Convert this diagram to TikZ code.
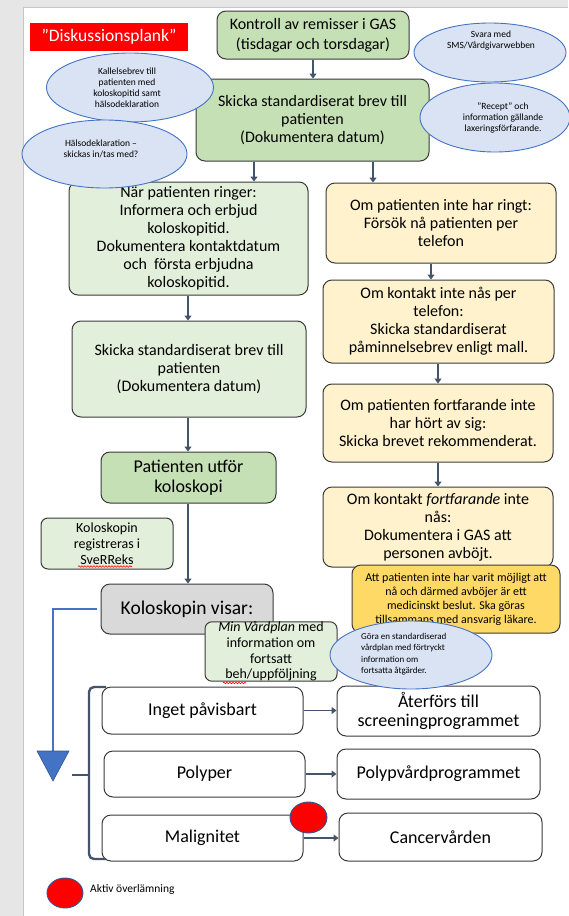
\documentclass[tikz,border=0pt]{standalone}
\usepackage{fontspec}
\setmainfont{Carlito}
\usetikzlibrary{arrows.meta,shapes.geometric,decorations.pathmorphing}
\definecolor{gdark}{HTML}{C5E0B4}
\definecolor{glight}{HTML}{E2EFDA}
\definecolor{orl}{HTML}{FFF2CC}
\definecolor{goldf}{HTML}{FFD966}
\definecolor{gryf}{HTML}{D9D9D9}
\definecolor{ellf}{HTML}{DAE3F3}
\definecolor{elld}{HTML}{4472C4}
\definecolor{arrc}{HTML}{44546A}
\definecolor{bord}{HTML}{3A3A3A}
\definecolor{pagebg}{HTML}{E6E6E6}
\definecolor{circb}{HTML}{2F5597}
\begin{document}
\begin{tikzpicture}[x=1pt,y=-1pt,
  box/.style={draw=bord, line width=1pt, rounded corners=9pt, align=center, inner sep=0pt, font=\fontsize{16}{18}\selectfont},
  ell/.style={ellipse, draw=elld, line width=0.9pt, fill=ellf, inner sep=0pt},
  etext/.style={align=center, inner sep=0pt, font=\fontsize{9.5}{11}\selectfont},
  conn/.style={draw=arrc, line width=1.8pt, -{Triangle[width=7pt,length=5pt]}},
  blueline/.style={draw=elld, line width=2.6pt},
  bracketline/.style={draw=arrc, line width=2.4pt, rounded corners=5pt},
  redc/.style={ellipse, fill=red, draw=circb, line width=0.9pt, inner sep=0pt},
  wavy/.style={draw=red, line width=0.6pt, decorate, decoration={snake, amplitude=0.8pt, segment length=3pt}}
]
\useasboundingbox (0,0) rectangle (568,916);
\fill[pagebg] (0,0) rectangle (568,916);
\fill[white] (23,7) rectangle (568,916);
\draw[gray!45, line width=0.6pt] (23,916) -- (23,7) -- (568,7);

% title
\node[fill=red, text=white, minimum width=158pt, minimum height=28pt, inner sep=0pt, font=\fontsize{17.5}{20}\selectfont] (title) at (109,37) {”Diskussionsplank”};

% top boxes
\node[box, fill=gdark, minimum width=192pt, minimum height=48pt, font=\fontsize{16}{20}\selectfont] (kontroll) at (313,35) {Kontroll av remisser i GAS\\(tisdagar och torsdagar)};
\node[box, fill=gdark, minimum width=233pt, minimum height=82pt] (skicka1) at (312.5,120) {Skicka standardiserat brev till\\patienten\\(Dokumentera datum)};

% left column
\node[box, fill=glight, minimum width=239pt, minimum height=113pt] (nar) at (188.5,238.5) {När patienten ringer:\\Informera och erbjud\\koloskopitid.\\Dokumentera kontaktdatum\\och\ \ första erbjudna\\koloskopitid.};
\node[box, fill=glight, minimum width=234pt, minimum height=96pt] (skicka2) at (189,369) {Skicka standardiserat brev till\\patienten\\(Dokumentera datum)};
\node[box, fill=gdark, minimum width=175pt, minimum height=51pt, font=\fontsize{18}{20}\selectfont] (utfor) at (188.5,477.5) {Patienten utför\\koloskopi};
\node[box, fill=glight, minimum width=132pt, minimum height=51pt, rounded corners=7pt, font=\fontsize{14}{16}\selectfont] (reg) at (107,543.5) {Koloskopin\\registreras i\\SveRReks};
\node[box, fill=gryf, minimum width=172pt, minimum height=50pt, font=\fontsize{19.5}{22}\selectfont] (visar) at (187,609) {Koloskopin visar:};
\node[box, fill=glight, minimum width=132pt, minimum height=59pt, rounded corners=7pt, font=\fontsize{14}{15.7}\selectfont] (minvp) at (271,651.5) {\textit{Min Vårdplan} med\\information om\\fortsatt\\beh/uppföljning};

% right column
\node[box, fill=orl, minimum width=230pt, minimum height=80pt] (omring) at (441,223) {Om patienten inte har ringt:\\Försök nå patienten per\\telefon};
\node[box, fill=orl, minimum width=231pt, minimum height=83pt] (omkontakt) at (438.5,321.5) {Om kontakt inte nås per\\telefon:\\Skicka standardiserat\\påminnelsebrev enligt mall.};
\node[box, fill=orl, minimum width=230pt, minimum height=78pt] (omfort) at (438,423) {Om patienten fortfarande inte\\har hört av sig:\\Skicka brevet rekommenderat.};
\node[box, fill=orl, minimum width=230pt, minimum height=80pt] (omkontakt2) at (438,527) {Om kontakt \textit{fortfarande} inte\\nås:\\Dokumentera i GAS att\\personen avböjt.};
\node[box, fill=goldf, minimum width=208pt, minimum height=68pt, font=\fontsize{12}{14}\selectfont] (att) at (456,599) {Att patienten inte har varit möjligt att\\nå och därmed avböjer är ett\\medicinskt beslut. Ska göras\\tillsammans med ansvarig läkare.};

% result boxes
\node[box, fill=white, minimum width=201pt, minimum height=47pt, font=\fontsize{18}{20}\selectfont] (inget) at (202.5,710.5) {Inget påvisbart};
\node[box, fill=white, minimum width=203pt, minimum height=50pt, font=\fontsize{18}{19.5}\selectfont] (aterfors) at (438.5,711) {Återförs till\\screeningprogrammet};
\node[box, fill=white, minimum width=201pt, minimum height=46pt, font=\fontsize{18}{20}\selectfont] (polyper) at (204.5,774) {Polyper};
\node[box, fill=white, minimum width=203pt, minimum height=50pt, font=\fontsize{18}{20}\selectfont] (polypvard) at (438.5,774) {Polypvårdprogrammet};
\node[box, fill=white, minimum width=201pt, minimum height=46pt, font=\fontsize{18}{20}\selectfont] (malig) at (202.5,838) {Malignitet};
\node[box, fill=white, minimum width=203pt, minimum height=48pt, font=\fontsize{18}{20}\selectfont] (cancer) at (440.5,837) {Cancervården};

% ellipses (on top of boxes)
\node[ell, minimum width=152pt, minimum height=59pt] (svara) at (490,52.5) {};
\node[etext] (svaraT) at (491,41) {Svara med\\SMS/Vårdgivarwebben};
\node[ell, minimum width=167pt, minimum height=69pt] (kallelse) at (130,87.5) {};
\node[etext] (kallelseT) at (127,88) {Kallelsebrev till\\patienten med\\koloskopitid samt\\hälsodeklaration};
\node[ell, minimum width=150pt, minimum height=69pt] (recept) at (495,117.5) {};
\node[etext] (receptT) at (503,118) {"Recept" och\\information gällande\\laxeringsförfarande.};
\node[ell, minimum width=165pt, minimum height=68pt] (hals) at (104.5,154) {};
\node[etext, font=\fontsize{9.5}{10.5}\selectfont] (halsT) at (101,149) {Hälsodeklaration –\\skickas in/tas med?};
\node[ell, minimum width=162pt, minimum height=68pt] (gora) at (411,655) {};
\node[etext, align=left, anchor=west, font=\fontsize{9}{11.3}\selectfont] (goraT) at (361,654) {Göra en standardiserad\\vårdplan med förtryckt\\information om\\fortsatta åtgärder.};

% spell-check underlines
\draw[wavy] (78,566.5) -- (132,566.5);
\draw[wavy] (223,683) -- (246,683);

% connectors
\coordinate (xa) at (254,0);
\coordinate (xb) at (373,0);
\coordinate (xc) at (431,0);
\coordinate (xl) at (188,0);
\coordinate (xr) at (438,0);
\draw[conn] (kontroll.south) -- (skicka1.north -| kontroll.south);
\draw[conn] (skicka1.south -| xa) -- (nar.north -| xa);
\draw[conn] (skicka1.south -| xb) -- (omring.north -| xb);
\draw[conn] (omring.south -| xc) -- (omkontakt.north -| xc);
\draw[conn] (omkontakt.south -| xr) -- (omfort.north -| xr);
\draw[conn] (omfort.south -| xr) -- (omkontakt2.north -| xr);
\draw[conn] (nar.south -| xl) -- (skicka2.north -| xl);
\draw[conn] (skicka2.south -| xl) -- (utfor.north -| xl);
\draw[conn] (utfor.south -| xl) -- (visar.north -| xl);
\draw[conn] (inget.east) -- (aterfors.west |- inget.east);
\draw[conn] (polyper.east) -- (polypvard.west |- polyper.east);
\draw[conn] (malig.east) -- (cancer.west |- malig.east);

% blue flow line with big triangle head
\coordinate (tritop) at (53,751);
\draw[blueline] ([xshift=-4pt]visar.west) -| (tritop);
\fill[elld] (37,751) -- (69,751) -- (53,781) -- cycle;
\draw[circb, line width=0.6pt] (37,751) -- (69,751) -- (53,781) -- cycle;

% bracket
\draw[bracketline] (106,687) -- (89,687) -- (89,859) -- (106,859);
\draw[draw=arrc, line width=2.4pt] (72,775) -- (89,775);

% red circles
\node[redc, minimum width=37pt, minimum height=31pt] (hand) at (308.5,817.5) {};
\node[redc, minimum width=36pt, minimum height=30pt] (legc) at (65,893) {};
\node[anchor=west, inner sep=0pt, font=\fontsize{11.5}{13}\selectfont] (legt) at (90,889) {Aktiv överlämning};
\end{tikzpicture}
\end{document}
